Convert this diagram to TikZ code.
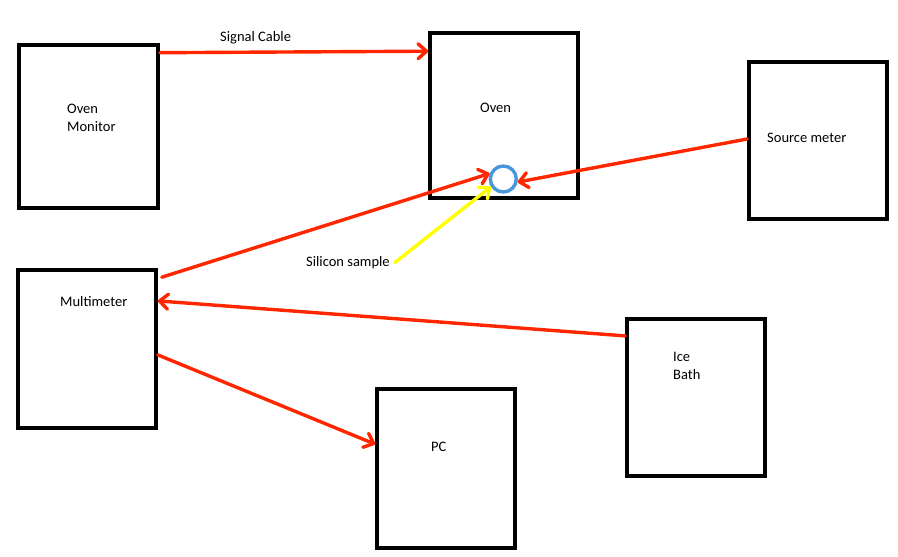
\documentclass[tikz,border=0pt]{standalone}
\usepackage{fontspec}
\setmainfont{Carlito}
\usetikzlibrary{arrows.meta}
\definecolor{wire}{RGB}{255,38,0}
\definecolor{probe}{RGB}{255,255,0}
\definecolor{waferblue}{RGB}{74,150,218}

\begin{document}
\begin{tikzpicture}[x=1pt,y=-1pt,
    box/.style={draw,line width=3.6pt,minimum width=138pt,minimum height=158pt,inner sep=0pt},
    txt/.style={font=\fontsize{14.5}{18}\selectfont,inner sep=0pt,align=left},
    cable/.style={draw=wire,line width=3.4pt,line cap=round,-{Straight Barb[length=8.5pt,width=15pt,round]}}]
    \useasboundingbox (0,0) rectangle (898,557);

    \node[box,minimum width=139pt,minimum height=163pt] (ovenmon) at (88.5,126.5) {};
    \node[box,minimum width=148pt,minimum height=165pt] (oven) at (504,115.5) {};
    \node[box,minimum height=157pt] (source) at (818,140.5) {};

    \node[box] (multi) at (87,349) {};
    \node[box,minimum height=157pt] (ice) at (696,397.5) {};
    \node[box,minimum height=159pt] (pc) at (446,468.5) {};

    \node[draw=waferblue,line width=3.4pt,circle,minimum size=26pt,inner sep=0pt] (sample) at (503.3,179) {};

    \node[txt,anchor=west] (ovenmon-t) at (67,118) {Oven\\Monitor};
    \node[txt,anchor=base west] (oven-t) at (480,112.6) {Oven};
    \node[txt,anchor=base west] (source-t) at (767,142.6) {Source meter};
    \node[txt,anchor=base west] (multi-t) at (60,306.3) {Multimeter};
    \node[txt,anchor=west] (ice-t) at (673,366) {Ice\\Bath};
    \node[txt,anchor=base west] (pc-t) at (431,451.3) {PC};
    \node[txt,anchor=base west] (signal) at (220,41.6) {Signal Cable};
    \node[txt,anchor=base west] (silicon) at (306,266.3) {Silicon sample};

    \draw[cable] ([yshift=-9.5pt]ovenmon.north east) -- ([yshift=-20pt]oven.north west);

    \draw[cable] ([yshift=1.5pt]source.west) -- (sample.-12);
    \draw[cable] ([xshift=4pt,yshift=-9pt]multi.north east) -- (sample.158);
    \draw[cable,draw=probe] ([xshift=5pt]silicon.east) -- (sample.212);

    \draw[cable] ([yshift=-18.7pt]ice.north west) -- ([yshift=-32.7pt]multi.north east);
    \draw[cable] ([yshift=-86.7pt]multi.north east) -- ([yshift=-57pt]pc.north west);

\end{tikzpicture}
\end{document}
